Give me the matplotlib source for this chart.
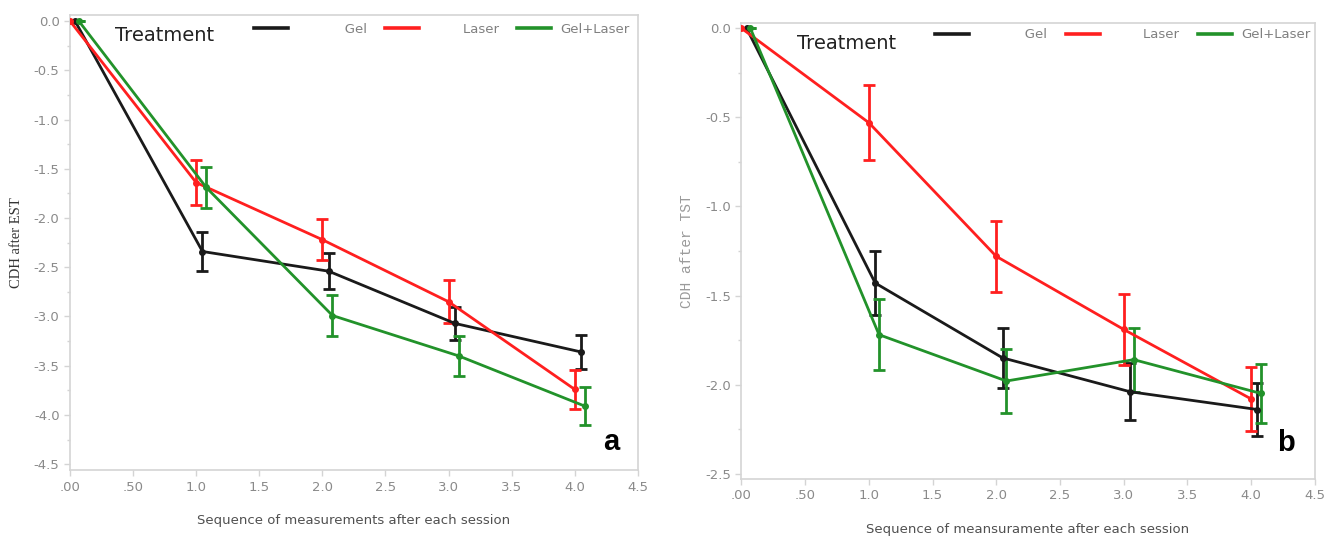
import matplotlib.pyplot as plt
from matplotlib.ticker import MultipleLocator

# session index (x), with the small dodge used in the original figure
x_gel = [0.04, 1.05, 2.05, 3.05, 4.05]
x_laser = [0.0, 1.0, 2.0, 3.0, 4.0]
x_both = [0.07, 1.08, 2.08, 3.08, 4.08]

# panel a: CDH after EST
a_gel = [0.0, -2.34, -2.54, -3.07, -3.36]
a_gel_err = [0.0, 0.20, 0.18, 0.17, 0.17]
a_laser = [0.0, -1.64, -2.22, -2.85, -3.74]
a_laser_err = [0.0, 0.23, 0.21, 0.22, 0.20]
a_both = [0.0, -1.69, -2.99, -3.40, -3.91]
a_both_err = [0.0, 0.21, 0.21, 0.20, 0.19]

# panel b: CDH after TST
b_gel = [0.0, -1.43, -1.85, -2.04, -2.14]
b_gel_err = [0.0, 0.18, 0.17, 0.16, 0.15]
b_laser = [0.0, -0.53, -1.28, -1.69, -2.08]
b_laser_err = [0.0, 0.21, 0.20, 0.20, 0.18]
b_both = [0.0, -1.72, -1.98, -1.86, -2.05]
b_both_err = [0.0, 0.20, 0.18, 0.18, 0.165]

x_ticks = [0, 0.5, 1.0, 1.5, 2.0, 2.5, 3.0, 3.5, 4.0, 4.5]
x_ticklabels = ['.00', '.50', '1.0', '1.5', '2.0', '2.5', '3.0', '3.5', '4.0', '4.5']

labels = ['Gel', 'Laser', 'Gel+Laser']
colors = ['#1a1a1a', '#ff1f1f', '#22922a']
# labels are right aligned in their legend cells in the original
legend_labels = [' ' * 11 + 'Gel', ' ' * 8 + 'Laser', 'Gel+Laser']

tick_color = '#8a8a8a'
spine_color = '#d4d4d4'


def draw_panel(ax, series, ylim, yticks, xlabel, ylabel, ylabel_font,
               ylabel_color, letter, letter_pos, leg_anchor, treat_pos):
    handles = []
    for (xs, ys, es), c in zip(series, colors):
        ax.errorbar(xs, ys, yerr=es, color=c, lw=2.0, elinewidth=2.0,
                    capsize=4, capthick=2.0, marker='o', ms=4, zorder=3)
        handles.append(plt.Line2D([], [], color=c, lw=2.6))

    ax.set_xlim(0, 4.5)
    ax.set_ylim(*ylim)
    ax.set_xticks(x_ticks)
    ax.set_xticklabels(x_ticklabels)
    ax.set_yticks(yticks)
    ax.set_yticklabels(['%.1f' % t for t in yticks])
    ax.yaxis.set_minor_locator(MultipleLocator(0.25))
    ax.tick_params(colors=spine_color, labelcolor=tick_color, labelsize=9.5,
                   length=4, width=1)
    ax.tick_params(which='minor', colors=spine_color, length=2, width=1)
    for s in ax.spines.values():
        s.set_color(spine_color)
        s.set_linewidth(1.2)

    ax.set_xlabel(xlabel, color='#505050', fontsize=9.5, labelpad=15)
    ax.set_ylabel(ylabel, family=ylabel_font, color=ylabel_color,
                  fontsize=10.5, labelpad=8)

    ax.text(treat_pos[0], treat_pos[1], 'Treatment', transform=ax.transAxes,
            fontsize=14, color='#222222', va='center')
    ax.legend(handles, legend_labels, ncol=3, loc='center right',
              bbox_to_anchor=leg_anchor, frameon=False, fontsize=9.5,
              labelcolor='#808080', handlelength=2.6, handletextpad=0.7,
              columnspacing=1.4, borderpad=0, borderaxespad=0)

    ax.text(letter_pos[0], letter_pos[1], letter, transform=ax.transAxes,
            fontsize=21, fontweight='bold', family='Liberation Sans',
            ha='right', va='center', color='black')


fig = plt.figure(figsize=(13.36, 5.41), dpi=100)
ax1 = fig.add_axes([0.0524, 0.131, 0.425, 0.841])
ax2 = fig.add_axes([0.555, 0.1146, 0.429, 0.843])

draw_panel(ax1,
           [(x_gel, a_gel, a_gel_err), (x_laser, a_laser, a_laser_err),
            (x_both, a_both, a_both_err)],
           (-4.56, 0.06), [0.0, -0.5, -1.0, -1.5, -2.0, -2.5, -3.0, -3.5, -4.0, -4.5],
           'Sequence of measurements after each session',
           'CDH after EST', 'Liberation Serif', '#333333', 'a',
           (0.968, 0.062), (0.986, 0.969), (0.079, 0.956))

draw_panel(ax2,
           [(x_gel, b_gel, b_gel_err), (x_laser, b_laser, b_laser_err),
            (x_both, b_both, b_both_err)],
           (-2.53, 0.03), [0.0, -0.5, -1.0, -1.5, -2.0, -2.5],
           'Sequence of meansuramente after each session',
           'CDH after TST', 'Liberation Mono', '#9a9a9a', 'b',
           (0.965, 0.08), (0.993, 0.974), (0.096, 0.956))

fig.savefig('out.png', dpi=100)
